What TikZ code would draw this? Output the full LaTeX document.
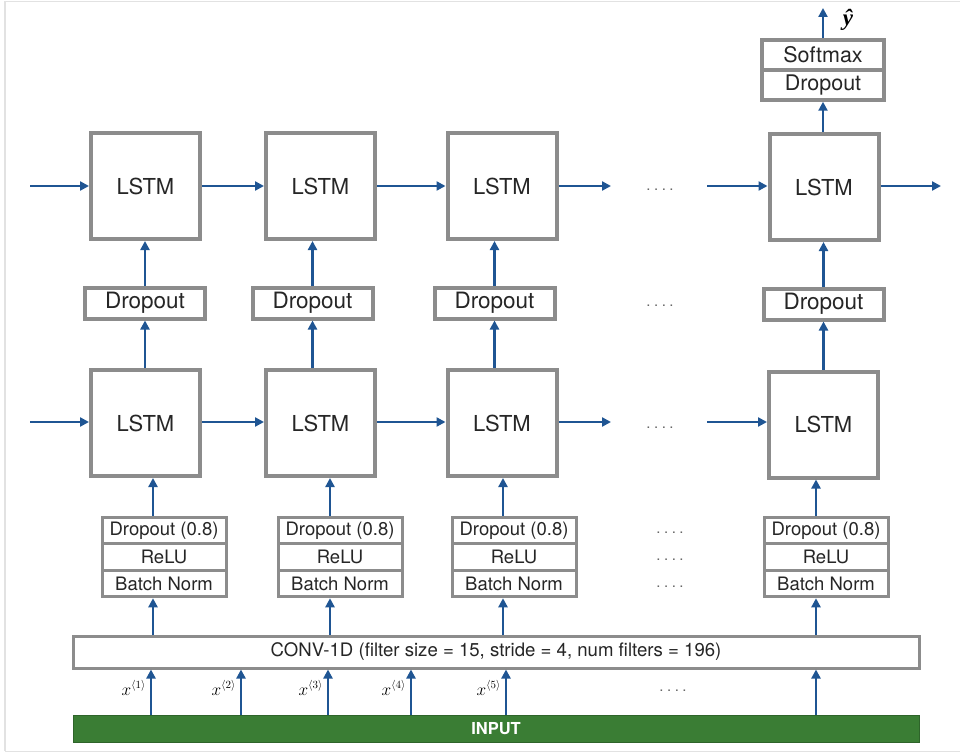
\documentclass[tikz,border=0pt]{standalone}
\usepackage{fontspec}
\setmainfont{TeX Gyre Heros}
\newfontfamily\yhatfont{Liberation Serif}
\usetikzlibrary{arrows.meta,calc}
\definecolor{arrblue}{HTML}{1F5593}
\definecolor{boxgray}{HTML}{8C8C8C}
\definecolor{inputgreen}{HTML}{3A7D34}
\definecolor{framegray}{HTML}{E2E2E2}
\begin{document}
\begin{tikzpicture}[x=1pt,y=-1pt,
  lstm/.style={draw=boxgray,line width=4pt,fill=white,minimum width=109pt,minimum height=106pt,inner sep=0pt,font=\fontsize{22}{26}\selectfont,text=black!85},
  dropbox/.style={draw=boxgray,line width=4pt,fill=white,minimum width=120pt,minimum height=31pt,inner sep=0pt,font=\fontsize{22.5}{26}\selectfont,text=black!85},
  layer/.style={draw=boxgray,line width=3pt,fill=white,minimum width=124pt,minimum height=26.5pt,inner sep=0pt,font=\fontsize{18.5}{21}\selectfont,text=black!85},
  topbox/.style={draw=boxgray,line width=3.5pt,fill=white,minimum width=122pt,minimum height=30pt,inner sep=0pt,font=\fontsize{21.5}{24}\selectfont,text=black!85},
  arr/.style={draw=arrblue,line width=2.5pt,-{Triangle[length=9pt,width=9pt]}},
  dots/.style={font=\fontsize{15}{16}\selectfont,text=black!60},
  xlab/.style={anchor=east,font=\fontsize{16}{18}\selectfont,inner sep=0pt}
]
\useasboundingbox (0,0) rectangle (960,754);
% frame
\draw[framegray,line width=1.5pt] (5,751) -- (5,1.5) -- (965,1.5);
\draw[framegray,line width=1pt] (5,751) -- (965,751);

% top LSTM row
\node[lstm] (T1) at (145.5,186) {LSTM};
\node[lstm] (T2) at (320.5,186) {LSTM};
\node[lstm] (T3) at (502,186) {LSTM};
\node[lstm] (T4) at (824,187) {LSTM};
% dropout row
\node[dropbox] (D1) at (145,303) {Dropout};
\node[dropbox] (D2) at (312.5,303) {Dropout};
\node[dropbox] (D3) at (494.5,303) {Dropout};
\node[dropbox] (D4) at (823.5,304) {Dropout};
% bottom LSTM row
\node[lstm] (B1) at (145.5,423) {LSTM};
\node[lstm] (B2) at (320.5,423) {LSTM};
\node[lstm] (B3) at (502,423) {LSTM};
\node[lstm] (B4) at (823.5,424.5) {LSTM};
% layer stacks
\foreach \i/\cx in {1/164,2/340,3/514,4/826}{
  \node[layer] (dr\i) at (\cx,530.5) {Dropout (0.8)};
  \node[layer] (re\i) at (\cx,557) {ReLU};
  \node[layer] (bn\i) at (\cx,583.5) {Batch Norm};
}
% conv and input
\node[draw=boxgray,line width=3pt,fill=white,minimum width=846pt,minimum height=32pt,inner sep=0pt,font=\fontsize{18.6}{21}\selectfont,text=black!85] (conv) at (496,652) {CONV-1D (filter size = 15, stride = 4, num filters = 196)};
\node[fill=inputgreen,draw=inputgreen!80!black,line width=0.6pt,minimum width=846pt,minimum height=27pt,inner sep=0pt,text=white,font=\bfseries\fontsize{16.5}{19}\selectfont] (input) at (496,728.5) {INPUT};
% top softmax stack
\node[topbox] (sm) at (823,55) {Softmax};
\node[topbox] (do) at (823,85) {Dropout};

% horizontal arrows
\coordinate (tin) at (30,186);
\coordinate (tmid1) at (611,186);
\coordinate (tmid2) at (707,186);
\coordinate (tout) at (941,186);
\draw[arr] (tin) -- (T1.west);
\draw[arr] (T1.east) -- (T2.west);
\draw[arr] (T2.east) -- (T3.west);
\draw[arr] (T3.east) -- (tmid1);
\draw[arr] (tmid2) -- (T4.west |- tmid2);
\draw[arr] (T4.east |- tout) -- (tout);

\coordinate (bin) at (30,422);
\coordinate (bmid1) at (611,422);
\coordinate (bmid2) at (707,422);
\draw[arr] (bin) -- (B1.west |- bin);
\draw[arr] (B1.east |- bin) -- (B2.west |- bin);
\draw[arr] (B2.east |- bin) -- (B3.west |- bin);
\draw[arr] (B3.east |- bin) -- (bmid1);
\draw[arr] (bmid2) -- (B4.west |- bmid2);

% vertical arrows dropout->top LSTM, bottom LSTM -> dropout
\foreach \i in {1,2,3,4}{
  \draw[arr] (D\i.north) -- (D\i.north |- T\i.south);
  \draw[arr] (D\i.south |- B\i.north) -- (D\i.south);
}
% stack arrows
\foreach \i/\ax in {1/153,2/330,3/503,4/816}{
  \coordinate (ax\i) at (\ax,0);
  \draw[arr] (dr\i.north -| ax\i) -- (B\i.south -| ax\i);
  \draw[arr] (conv.north -| ax\i) -- (bn\i.south -| ax\i);
}
% top
\coordinate (yout) at (823,8);
\draw[arr] (T4.north -| do.south) -- (do.south);
\draw[arr] (sm.north) -- (yout);
\node[font=\yhatfont\itshape\bfseries\fontsize{23}{25}\selectfont,inner sep=1pt] (yhat) at (848,20) {ŷ};

% input arrows and labels
\foreach \i/\ax in {1/151,2/241,3/328,4/411,5/506}{
  \coordinate (in\i) at (\ax,0);
  \draw[arr] (input.north -| in\i) -- (conv.south -| in\i);
  \node[xlab] (xl\i) at (\ax-5,688) {$x^{\langle \i\rangle}$};
}
\coordinate (in6) at (816,0);
\draw[arr] (input.north -| in6) -- (conv.south -| in6);

% dots
\foreach \n/\px/\py in {d1/660/190,d2/660/306,d3/660/428,d4/670/533,d5/670/560,d6/670/587,d7/673/691}{
  \node[dots] (\n) at (\px,\py) {.\hspace{3.5pt}.\hspace{3.5pt}.\hspace{3.5pt}.};
}
\end{tikzpicture}
\end{document}
